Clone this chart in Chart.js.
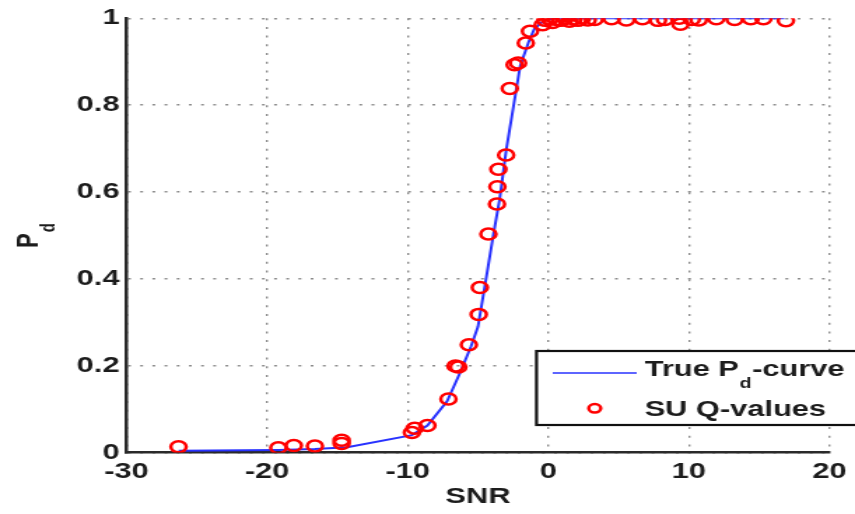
<!DOCTYPE html>
<html>
<head>
<meta charset="utf-8">
<script src="https://cdn.jsdelivr.net/npm/chart.js@4/dist/chart.umd.min.js"></script>
<style>
  html, body { margin: 0; padding: 0; background: #fff; overflow: hidden; }
  #wrap { position: absolute; left: 0; top: 0; width: 611px; height: 514px;
          transform: scaleX(1.39935); transform-origin: 0 0; }
</style>
</head>
<body>
<div id="wrap"><canvas id="c"></canvas></div>
<script>
// ---- data ----
const snrCurve = [-26.3, -19.2, -16.6, -14.3, -9.7, -8.6, -7.2, -6.3, -5.5, -5.0, -4.4, -3.9, -3.45, -3.0, -2.0, -1.4, -1.0, -0.3, 0.5, 16.8];
const pdCurve  = [0.004, 0.006, 0.008, 0.012, 0.040, 0.062, 0.118, 0.182, 0.244, 0.290, 0.405, 0.503, 0.585, 0.695, 0.890, 0.945, 0.975, 0.995, 1.000, 1.000];

const snrQ = [-26.3, -19.2, -18.1, -16.6, -14.7, -14.7, -9.7, -9.5, -8.6, -7.1, -6.6, -6.4, -5.65, -4.95, -4.87, -4.26, -3.65, -3.62, -3.55, -3.0,
              -2.74, -2.4, -2.15, -1.6, -1.3,
              -0.4, -0.2, 0.1, 0.3, 0.6, 0.9, 1.2, 1.5, 1.8, 2.1, 2.4, 2.8, 3.3, 4.5, 5.55, 6.7, 7.8, 8.3, 9.3, 9.4, 10.2, 10.7, 11.95, 13.25, 14.4, 15.3, 16.9];
const pdQ  = [0.013, 0.011, 0.016, 0.015, 0.028, 0.021, 0.046, 0.056, 0.062, 0.123, 0.199, 0.197, 0.248, 0.318, 0.380, 0.503, 0.572, 0.612, 0.652, 0.685,
              0.838, 0.893, 0.897, 0.943, 0.970,
              0.985, 0.995, 0.998, 0.990, 0.997, 0.995, 1.000, 0.993, 0.998, 0.995, 1.000, 0.996, 0.997, 0.999, 0.996, 0.999, 0.995, 0.997, 1.000, 0.986, 0.997, 0.996, 0.999, 0.997, 0.999, 0.999, 0.994];

const xTicks = [-30, -20, -10, 0, 10, 20];
const yTicks = [0, 0.2, 0.4, 0.6, 0.8, 1];
const xTitle = 'SNR';
const yTitleMain = 'P', yTitleSub = 'd';
const legendLine = ['True P', 'd', '-curve'];
const legendPoints = 'SU Q-values';

// ---- styling ----
const FONT = 'Liberation Sans, Arial, sans-serif';
const TXT = '#1c1c1c';
const BLUE = 'rgb(40,50,255)';
const RED = 'rgb(255,0,0)';

Chart.defaults.font.family = FONT;
Chart.defaults.color = TXT;

const extras = {
  id: 'extras',
  afterDraw(chart) {
    const ctx = chart.ctx;
    ctx.save();
    // y-axis title with subscript
    ctx.fillStyle = TXT;
    ctx.translate(0, 248);
    ctx.rotate(-Math.PI / 2);
    ctx.textAlign = 'left';
    ctx.textBaseline = 'alphabetic';
    ctx.font = 'bold 22px ' + FONT;
    ctx.fillText(yTitleMain, 0, 27);
    const wP = ctx.measureText(yTitleMain).width;
    ctx.font = 'bold 15px ' + FONT;
    ctx.fillText(yTitleSub, wP + 1, 39);
    ctx.restore();

    // legend box
    ctx.save();
    const bx = 383.4, by = 351, bw = 240, bh = 74;
    ctx.fillStyle = '#fff';
    ctx.fillRect(bx, by, bw, bh);
    ctx.lineWidth = 2.2;
    ctx.strokeStyle = '#111';
    ctx.strokeRect(bx, by, bw, bh);
    // line sample
    ctx.strokeStyle = BLUE;
    ctx.lineWidth = 1.6;
    ctx.beginPath(); ctx.moveTo(395, 373); ctx.lineTo(455, 373); ctx.stroke();
    // marker sample
    ctx.strokeStyle = RED;
    ctx.lineWidth = 2.5;
    ctx.beginPath(); ctx.arc(425, 408.3, 4.3, 0, Math.PI * 2); ctx.stroke();
    // text
    ctx.fillStyle = TXT;
    ctx.textAlign = 'left';
    ctx.textBaseline = 'alphabetic';
    ctx.font = 'bold 22px ' + FONT;
    let x = 460.7;
    ctx.fillText(legendLine[0], x, 376);
    x += ctx.measureText(legendLine[0]).width + 0.5;
    ctx.font = 'bold 14px ' + FONT;
    ctx.fillText(legendLine[1], x, 388);
    x += ctx.measureText(legendLine[1]).width + 0.5;
    ctx.font = 'bold 22px ' + FONT;
    ctx.fillText(legendLine[2], x, 376);
    ctx.fillText(legendPoints, 460.7, 416);
    ctx.restore();
  }
};

new Chart(document.getElementById('c'), {
  data: {
    datasets: [
      {
        type: 'scatter',
        label: legendPoints,
        data: snrQ.map((v, i) => ({ x: v, y: pdQ[i] })),
        pointStyle: 'circle',
        pointRadius: 5.5,
        pointHoverRadius: 5.5,
        borderWidth: 2.5,
        borderColor: RED,
        backgroundColor: 'rgba(0,0,0,0)',
        showLine: false
      },
      {
        type: 'line',
        label: 'True Pd-curve',
        data: snrCurve.map((v, i) => ({ x: v, y: pdCurve[i] })),
        borderColor: BLUE,
        borderWidth: 2,
        pointRadius: 0,
        tension: 0,
        fill: false
      }
    ]
  },
  options: {
    responsive: true,
    maintainAspectRatio: false,
    animation: false,
    layout: { padding: { left: 0, right: 18, top: 17.5, bottom: 0 } },
    plugins: { legend: { display: false }, tooltip: { enabled: false } },
    scales: {
      x: {
        type: 'linear',
        min: -30, max: 20,
        afterBuildTicks: s => { s.ticks = xTicks.map(v => ({ value: v })); },
        afterFit: s => { s.height = 61.5; },
        ticks: { callback: v => String(v), font: { size: 22, weight: 'bold' }, color: TXT, padding: 6, maxRotation: 0 },
        grid: { color: '#8c8c8c', lineWidth: 1.4, drawTicks: false },
        border: { display: true, color: '#2a2a2a', width: 2.5, dash: [2, 6.7] },
        title: { display: true, text: xTitle, font: { size: 22, weight: 'bold' }, color: TXT, padding: { top: 0, bottom: 4 } }
      },
      y: {
        type: 'linear',
        min: 0, max: 1,
        afterBuildTicks: s => { s.ticks = yTicks.map(v => ({ value: v })); },
        afterFit: s => { s.width = 90.4; },
        ticks: { callback: v => String(Math.round(v * 10) / 10), font: { size: 22, weight: 'bold' }, color: TXT, padding: 5 },
        grid: { color: '#8c8c8c', lineWidth: 1.4, drawTicks: false },
        border: { display: true, color: '#2a2a2a', width: 2.5, dash: [2, 6.7] }
      }
    }
  },
  plugins: [extras]
});
</script>
</body>
</html>
